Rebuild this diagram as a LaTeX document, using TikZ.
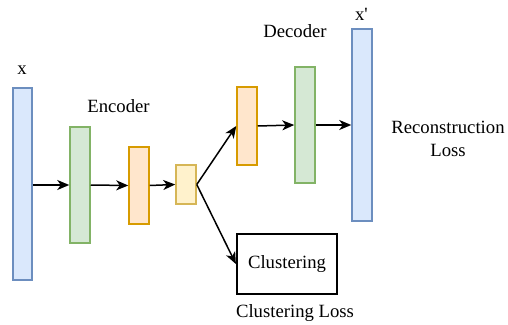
\documentclass[tikz,border=0pt]{standalone}
\usepackage{fontspec}
\setmainfont{Liberation Serif}
\usetikzlibrary{arrows.meta}
\definecolor{blueF}{HTML}{DAE8FC}\definecolor{blueD}{HTML}{6C8EBF}
\definecolor{greenF}{HTML}{D5E8D4}\definecolor{greenD}{HTML}{82B366}
\definecolor{orangeF}{HTML}{FFE6CC}\definecolor{orangeD}{HTML}{D79B00}
\definecolor{yellowF}{HTML}{FFF2CC}\definecolor{yellowD}{HTML}{D6B656}
\tikzset{
  layer/.style={draw, line width=1.5pt, inner sep=0pt, minimum width=20pt},
  bluel/.style={layer, fill=blueF, draw=blueD},
  greenl/.style={layer, fill=greenF, draw=greenD},
  orangel/.style={layer, fill=orangeF, draw=orangeD},
  yellowl/.style={layer, fill=yellowF, draw=yellowD},
  label/.style={inner sep=0pt, font=\fontsize{18.7}{23}\selectfont},
  flow/.style={-{Stealth[length=12pt,width=10pt,inset=3.5pt]}, line width=1.5pt},
}
\begin{document}
\begin{tikzpicture}[x=1pt,y=-1pt]
  \useasboundingbox (0,0) rectangle (508,324);
  % encoder stack
  \node[bluel, minimum width=19pt, minimum height=192pt] (xin) at (22.5,184) {};
  \node[greenl, minimum height=116pt] (g1) at (80,185) {};
  \node[orangel, minimum height=77pt] (o1) at (139,185.5) {};
  \node[yellowl, minimum height=39pt] (z) at (186,184.5) {};
  % decoder stack
  \node[orangel, minimum height=78pt] (o2) at (247,126) {};
  \node[greenl, minimum height=116pt] (g2) at (305,125) {};
  \node[bluel, minimum height=192pt] (xout) at (362,125) {};
  % clustering head
  \node[draw, line width=2.2pt, minimum width=100pt, minimum height=60pt, inner sep=0pt,
        label, anchor=center] (clus) at (287,264) {Clustering};
  % captions
  \node[label, anchor=base] (lx) at (22,74) {x};
  \node[label, anchor=base] (lenc) at (118.5,112) {Encoder};
  \node[label, anchor=base] (ldec) at (295,37) {Decoder};
  \node[label, anchor=base] (lxp) at (361.5,20) {x\textquotesingle};
  \node[label, align=center] (lrec) at (448,139) {Reconstruction\\Loss};
  \node[label, anchor=base] (lclus) at (295,317) {Clustering Loss};
  % connections
  \draw[flow] (xin.east |- 0,185) -- (g1.west);
  \draw[flow] (g1.east) -- (o1.west);
  \draw[flow] (o1.east) -- (z.west);
  \draw[flow] (z.east) -- (o2.west);
  \draw[flow] (o2.east) -- (g2.west);
  \draw[flow] (g2.east) -- (xout.west |- 0,125);
  \draw[flow] (z.east) -- (clus.west);
\end{tikzpicture}
\end{document}
